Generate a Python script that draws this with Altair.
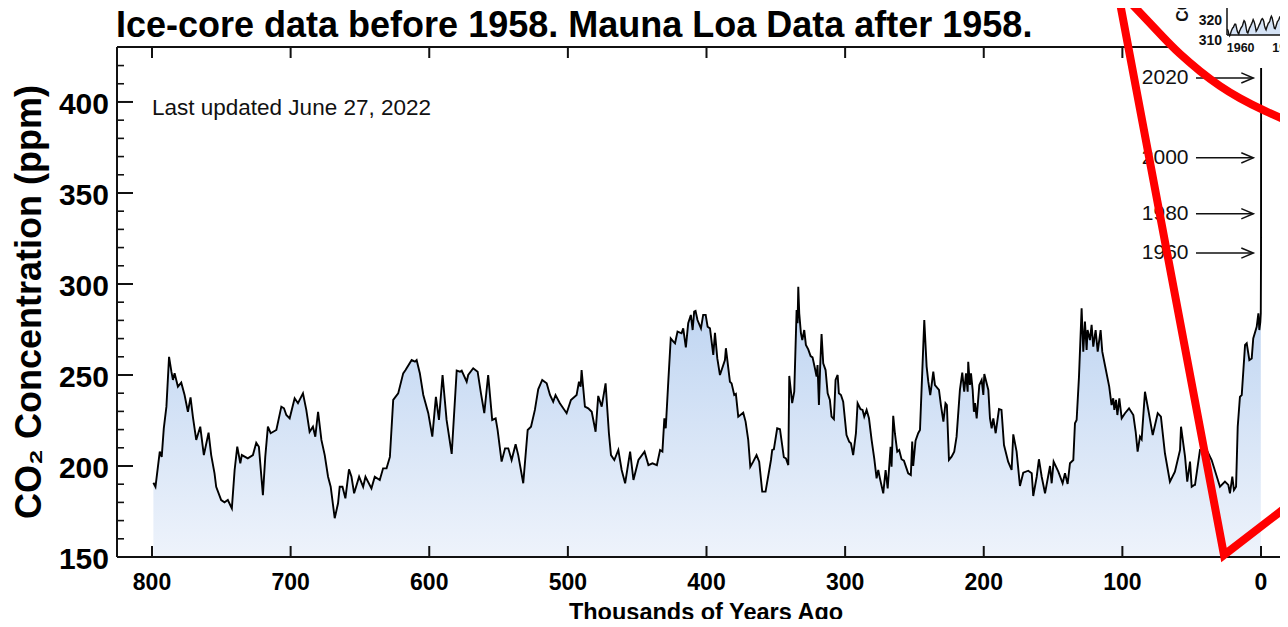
import altair as alt
import pandas as pd

FONT = "Liberation Sans"
INK = "#111111"

# ---------------- ice-core record (age in thousands of years ago, CO2 ppm) ----------------
seg_a_age = [799, 797.5, 794.4, 793, 791.5, 789.6, 787.7, 786, 784.9, 783.7, 781.3, 778.9, 776.5, 774.1,
             772.2, 770.5, 768.1, 765.2, 762.6, 759.2, 757.3, 754.9, 753.7, 750.1, 747.7, 745.3, 742.4,
             740.4, 738.5, 736.3, 735.2, 730.9, 727.2, 724.8, 722.9, 720, 718.3, 716.4, 714.4, 710.3,
             706.7, 704.8, 703.1, 700.7, 697.1, 694.7, 693.5, 691.1, 688.7, 686.3, 683.9, 682.2, 680.2,
             677.8, 675.4, 673, 671.1, 668.2, 665.8, 664.6, 662.6, 660.5, 657.9, 656.1, 654.2, 650.6,
             647.7, 646, 641.7, 639.3, 635.7, 633.3, 630.8, 628.4, 626, 622.4, 618.8, 617.1, 612.7, 610.3]
seg_a_ppm = [190.8, 188.6, 207.9, 205, 220.7, 232.6, 260, 251.8, 247.3, 251, 243.6, 245.8, 239, 229.8,
             237.7, 227, 214.3, 221.6, 206, 218.3, 206, 196, 188.6, 181.3, 180, 181.3, 176.7, 197.8,
             210.6, 201.5, 206, 204.2, 206, 212.8, 210.6, 184, 205, 221.6, 218, 219.8, 232.6, 231.7,
             228, 226.2, 237.2, 234.5, 236.3, 239.9, 230.8, 218.8, 221.6, 216.1, 229.8, 214.3, 206,
             194.1, 188.6, 171.3, 179.5, 188.6, 188.6, 182.2, 198.2, 194.1, 185, 194.1, 188.6, 194.1,
             187.7, 194.1, 192.3, 198.7, 198.7, 205, 236.3, 239.9, 250.9, 252.7, 258.2, 257.3]

seg_b_age = [609.1, 606.8, 604.3, 600.7, 597.8, 595.2, 593, 590.4, 587.5, 583.8, 580.2, 577.9, 576.6,
             573, 571.9, 568.3, 565.1, 562.7, 560.3, 557.5, 554.6, 552.1, 550.7, 547.8, 545.3, 543,
             540.6, 537.7, 535.8, 532.2, 529, 526.6, 523.8, 521.4, 518.5, 515.3, 512.9, 510.6, 508.9,
             505.8, 500.9, 497.8, 493.7, 492, 490.8, 490.1, 487.7, 485.3, 482.8, 480, 478.1, 475.6,
             472.8, 470.4, 468.9, 466.5, 463.6, 461.2, 458.7, 455.1, 452.7, 449.1, 444.7, 441.9, 439,
             435.8, 433.5, 431.8, 430.4, 429.4, 427.5, 425.8, 423.9, 422.7]
seg_b_ppm = [258.2, 251, 239, 229, 216.1, 238, 225.3, 250, 225.3, 206.6, 252.4, 251.8, 252.4, 246.3,
             250, 253.7, 251.8, 239.9, 229, 250, 225.3, 226.2, 219.8, 202.4, 209.7, 209.7, 203.3, 212,
             206, 190.5, 219.8, 221.6, 230.8, 242.1, 247.3, 245.4, 239, 235.3, 239, 234.5, 229, 236.3,
             239, 246.3, 243.5, 252.7, 232.6, 231.7, 229.8, 218.8, 238.5, 232.6, 245.4, 218, 206,
             203.3, 208.8, 197.8, 190.5, 207.9, 192.3, 203.3, 207.9, 200.5, 201.5, 200.5, 208.8, 207.9,
             226.2, 220.7, 247.3, 270.1, 268.3, 267.4]

seg_c_age = [420.9, 418, 416.8, 414.9, 413.2, 411.3, 410, 408.9, 407.9, 406.5, 404, 402.4, 400.6,
             399.2, 397.5, 395.1, 393.9, 392.2, 390.3, 386.7, 386, 383.1, 381.9, 380, 378.8, 377.1,
             373.5, 371.8, 369.9, 368.4, 366.3, 363.9, 362, 359.8, 357.4, 353.5, 352.6, 351.4, 349,
             347, 344.2, 342.7, 341, 340.3, 338.2, 336.7, 335, 334.3, 333.8, 333.1, 331.9, 330.9,
             329.5, 328.3, 326.6, 324.9, 323.5, 321.8, 320.6, 319.9, 318.9, 318, 317, 315.8, 314.1,
             312.6, 311, 309.8, 308.1, 306.9, 305.4, 304.5, 303, 301.4, 299, 297.1, 295.8, 294.2,
             292.2, 291, 288.9, 287.4, 286.2, 284.5, 282.8, 280.9, 279, 277.3, 276.1, 274.9, 272.5,
             270.8, 269.3, 267.2, 266.5, 265.3, 264.1, 262.4, 261, 259.3, 257.6, 254.5, 252.6, 251.6,
             250.9, 249.2, 247.3, 246, 244.4, 242.9, 241.2, 240]
seg_c_ppm = [273.8, 272.9, 275.6, 265.2, 278.4, 283, 274.7, 284.8, 285.2, 280.2, 275.6, 283, 283,
             276.5, 275.6, 261, 273.2, 259.1, 250, 258.2, 264.7, 246.3, 245.4, 239, 239.6, 227.1,
             229.3, 224.4, 214.3, 199.6, 202.4, 206, 202.4, 185.9, 185.9, 203.3, 208.8, 209.2, 220.7,
             220.2, 204.8, 204.2, 200.5, 249.5, 234.5, 240.9, 285.7, 278.4, 298.5, 283.9, 273, 269.2,
             274.7, 266.5, 264.1, 260.4, 259.7, 253.7, 249.1, 255.5, 233.5, 254.6, 272.5, 256.4,
             252.7, 239.9, 236.3, 227.1, 225.7, 247.3, 250, 239.9, 239, 235.3, 217, 213.4, 212.5, 206,
             218, 234.5, 231.2, 230.8, 227.1, 230.8, 226.2, 214.3, 204.2, 193.2, 197.8, 193.2, 185,
             197.8, 187.7, 210.6, 199.6, 227.6, 218, 207.9, 208.8, 203.7, 202.9, 196, 195, 213.4, 200,
             213.9, 218, 219.8, 250.9, 280.2, 254.6, 246.3]

seg_d_age = [238.6, 237.6, 236.4, 235.2, 232.3, 230.9, 229.1, 227.6, 226.6, 225.1, 223.2, 221.3,
             219.6, 217.2, 215.5, 214.1, 212.8, 211.6, 211.2, 210, 209.2, 208, 207.1, 206.3, 205.1,
             203.2, 201.5, 200.3, 199.6, 196.7, 195.5, 194.3, 193.1, 191.4, 189, 187.2, 185.4, 182.4,
             179.9, 178.7, 176.3, 173.9, 171.5, 167.9, 165.4, 164.3, 161.8, 160.2, 158.2, 155.8, 152.2,
             151, 149.6, 146.2, 143.1, 141.4, 139.5, 137.8, 135.4, 134.2, 133, 131.3, 129.4, 128.2,
             127, 125.8, 125.1, 123.4, 122.2, 121, 119.3, 117.8, 115.7, 114.5, 112.6, 109.5, 107.8,
             106.6, 105.8, 104.6, 103.6, 102.2, 100.5, 98.1, 95.2, 92.1, 90.4, 89, 87.3, 86.1, 83.7,
             81.3, 78.1, 74.5, 72.2, 69.3, 65.7, 62.1, 58.4, 57.7, 54.8, 53.2, 51.2, 50, 48.1]
seg_d_ppm = [239, 244.5, 251.8, 244.5, 241.8, 233.5, 224.4, 234.5, 233.5, 203.3, 205.1, 207.9, 216.1,
             241.8, 251.3, 240.8, 250.9, 240.8, 257.3, 244.5, 250.9, 241.8, 229.8, 234.5, 226.2,
             244.5, 247.3, 239, 250.5, 241.8, 226.2, 220.7, 226.2, 218, 231.3, 230.8, 211.5, 202.4,
             197.8, 217.4, 207.9, 189, 196.3, 197.4, 196, 183.5, 194.1, 203.7, 194.1, 185, 200, 190.5,
             202.4, 196.9, 190.5, 196, 190.1, 201.5, 203.3, 223.5, 225.3, 249.1, 286.6, 262.8, 279.3,
             263.7, 274.7, 269.2, 277.5, 265.6, 274.7, 262.8, 274.7, 262.8, 255.5, 243.6, 233.5,
             237.2, 230.8, 236.3, 228, 237.2, 226.2, 229, 231.7, 228, 218.8, 207.9, 216.1, 214.7,
             240.8, 230.8, 217, 229, 227.1, 207, 191.4, 196.9, 208.8, 221.6, 205.1, 191.4, 202.4,
             188.6, 189.6]

seg_e_age = [47.6, 44, 39.2, 35.6, 29.6, 26, 23.6, 22.4, 20.7, 19.5, 18, 16.8, 15.2, 13.9, 11.5, 10.3,
             8.4, 6.7, 5.6, 3.1, 1.9, 1.2, 0.5, 0.15]
seg_e_ppm = [189.6, 208.8, 208.8, 203.3, 188.6, 191.4, 189.6, 185, 194.1, 186.8, 188.6, 221.6, 238,
             239, 266.5, 267.4, 258.2, 259.1, 270.1, 276.5, 283.9, 274.7, 279, 284]

# ---------------- Mauna Loa (modern) ----------------
modern_year = [1958, 1960, 1970, 1980, 1990, 2000, 2010, 2020, 2022]
modern_ppm = [315.3, 316.9, 325.7, 338.8, 354.4, 369.7, 389.9, 414.2, 418.6]

arrow_labels = ["2020", "2000", "1980", "1960"]
arrow_ppm = [413.2, 369.3, 338.6, 317.0]

# inset: monthly Mauna Loa, Jul 1958 - Dec 1964
inset_ppm = [315.86, 314.93, 313.20, 312.43, 313.33, 314.67,
             315.62, 316.38, 316.71, 317.72, 318.29, 318.15, 316.54, 314.80, 313.84, 313.33, 314.81, 315.58,
             316.43, 316.98, 317.58, 319.03, 320.04, 319.59, 318.18, 315.90, 314.17, 313.83, 315.00, 316.19,
             316.93, 317.70, 318.54, 319.48, 320.58, 319.77, 318.57, 316.79, 314.80, 315.38, 316.10, 317.01,
             317.94, 318.55, 319.68, 320.57, 321.02, 320.62, 319.61, 317.40, 316.25, 315.42, 316.69, 317.70,
             318.74, 319.07, 319.86, 321.38, 322.25, 321.48, 319.74, 317.77, 316.21, 315.99, 317.07, 318.35,
             319.57, 320.07, 320.73, 321.77, 322.25, 321.89, 320.44, 318.69, 316.70, 316.87, 317.68, 318.71]
inset_y_labels = [310, 320, 330]
inset_x_labels = [1960, 1965]

# ---------------- axis tick values ----------------
x_tick_values = [0, 100, 200, 300, 400, 500, 600, 700, 800]
y_label_values = [150, 200, 250, 300, 350, 400]
y_minor_values = [160, 170, 180, 190, 210, 220, 230, 240, 260, 270, 280, 290,
                  310, 320, 330, 340, 360, 370, 380, 390, 410, 420]

# ---------------- red hand-drawn annotation (data units) ----------------
red_v_age = [102.1, 26.7, -19.5]
red_v_ppm = [456.0, 151.1, 178.2]
red_curve_age = [95.94, 82.96, 70.69, 58.43, 44.0, 29.58, 15.15, -2.89, -20.92]
red_curve_ppm = [456.0, 445.6, 435.7, 426.4, 417.0, 408.8, 402.1, 395.1, 389.0]

TITLE = "Ice-core data before 1958. Mauna Loa Data after 1958."
UPDATED = "Last updated June 27, 2022"
X_TITLE = "Thousands of Years Ago"
Y_TITLE = "CO\u2082 Concentration (ppm)"
INSET_TITLE = "CO\u2082 (ppm)"

# ---------------- frames ----------------
ice_age = seg_a_age + seg_b_age + seg_c_age + seg_d_age + seg_e_age
ice_ppm = seg_a_ppm + seg_b_ppm + seg_c_ppm + seg_d_ppm + seg_e_ppm
assert len(ice_age) == len(ice_ppm)
ice_df = pd.DataFrame({"age": ice_age, "ppm": ice_ppm})
modern_df = pd.DataFrame({"age": [(1950 - y) / 1000.0 for y in modern_year], "ppm": modern_ppm})
line_df = pd.concat([ice_df, modern_df], ignore_index=True)
arrow_df = pd.DataFrame({"label": arrow_labels, "ppm": arrow_ppm})
inset_df = pd.DataFrame({"year": [1958.5 + (k + 0.5) / 12.0 for k in range(len(inset_ppm))],
                         "ppm": inset_ppm})
one = pd.DataFrame({"k": [0]})

W, H = 1163, 510
X_MAIN = alt.Scale(domain=[-13.706, 825.25], reverse=True, nice=False, zero=False)
Y_MAIN = alt.Scale(domain=[150, 430.2], nice=False, zero=False)
X_IN = alt.Scale(domain=[1958.5, 1965.0], range=[1110, 1169.15], nice=False, zero=False)
Y_IN = alt.Scale(domain=[310, 330], range=[-6.3, -46.3], nice=False, zero=False)


def xq(field):
    return alt.X(field, scale=X_MAIN, axis=None)


def yq(field):
    return alt.Y(field, scale=Y_MAIN, axis=None)


fill = alt.Gradient(gradient="linear",
                    stops=[alt.GradientStop(color="#bcd3f1", offset=0),
                           alt.GradientStop(color="#eef3fb", offset=1)],
                    x1=1, x2=1, y1=0, y2=1)

area = alt.Chart(ice_df).mark_area(color=fill).encode(
    x=xq("age:Q"), y=yq("ppm:Q"), y2=alt.Y2(datum=150))

y_major = alt.Chart(pd.DataFrame({"v": y_label_values})).mark_rule(color=INK, strokeWidth=2).encode(
    y=yq("v:Q"), x=alt.value(0), x2=alt.value(16))
y_minor = alt.Chart(pd.DataFrame({"v": y_minor_values})).mark_rule(color=INK, strokeWidth=1.6).encode(
    y=yq("v:Q"), x=alt.value(0), x2=alt.value(7))
x_bot = alt.Chart(pd.DataFrame({"v": x_tick_values})).mark_rule(color=INK, strokeWidth=2).encode(
    x=xq("v:Q"), y=alt.value(H), y2=alt.value(H - 11))
x_top = alt.Chart(pd.DataFrame({"v": x_tick_values})).mark_rule(color=INK, strokeWidth=2).encode(
    x=xq("v:Q"), y=alt.value(0), y2=alt.value(11))

frame_l = alt.Chart(one).mark_rule(color=INK, strokeWidth=2).encode(
    x=alt.value(0), y=alt.value(0), y2=alt.value(H))
frame_t = alt.Chart(one).mark_rule(color=INK, strokeWidth=2).encode(
    y=alt.value(0), x=alt.value(0), x2=alt.value(W))
frame_b = alt.Chart(one).mark_rule(color=INK, strokeWidth=2).encode(
    y=alt.value(H), x=alt.value(0), x2=alt.value(W))

# axis labels and titles as text marks placed through the scales
y_lab = alt.Chart(pd.DataFrame({"v": y_label_values, "t": [str(v) for v in y_label_values]})).mark_text(
    align="right", baseline="middle", font=FONT, fontSize=30, fontWeight="bold", color="black", dy=3).encode(
    x=alt.value(-8), y=yq("v:Q"), text="t:N")
x_lab = alt.Chart(pd.DataFrame({"v": x_tick_values, "t": [str(v) for v in x_tick_values]})).mark_text(
    align="center", baseline="alphabetic", font=FONT, fontSize=23, fontWeight="bold", color="black").encode(
    x=xq("v:Q"), y=alt.value(H + 33), text="t:N")
x_title = alt.Chart(one).mark_text(text=X_TITLE, align="center", baseline="alphabetic", font=FONT,
                                   fontSize=23.5, fontWeight="bold", color="black").encode(
    x=alt.value(589), y=alt.value(H + 63))
y_title = alt.Chart(one).mark_text(text=Y_TITLE, angle=270, align="center", baseline="alphabetic", font=FONT,
                                   fontSize=36, fontWeight="bold", color="black").encode(
    x=alt.value(-76), y=alt.value(255))
main_title = alt.Chart(one).mark_text(text=TITLE, align="left", baseline="alphabetic", font=FONT,
                                      fontSize=36, fontWeight="bold", color="black").encode(
    x=alt.value(-1), y=alt.value(-10))

curve = alt.Chart(line_df).mark_line(color="black", strokeWidth=1.9).encode(
    x=xq("age:Q"), y=yq("ppm:Q"))

updated = alt.Chart(one).mark_text(text=UPDATED, align="left", baseline="alphabetic", font=FONT,
                                   fontSize=22.5, color=INK).encode(
    x=alt.X(datum=800, scale=X_MAIN, axis=None), y=alt.Y(datum=392.9, scale=Y_MAIN, axis=None))

arrow_txt = alt.Chart(arrow_df).mark_text(align="right", baseline="middle", font=FONT, fontSize=21,
                                          color=INK).encode(
    x=alt.X(datum=52.3, scale=X_MAIN, axis=None), y=yq("ppm:Q"), text="label:N")
arrow_line = alt.Chart(arrow_df).mark_rule(color=INK, strokeWidth=1.5).encode(
    x=alt.X(datum=46.9, scale=X_MAIN, axis=None), x2=alt.X2(datum=5.55), y=yq("ppm:Q"))
arrow_head = alt.Chart(arrow_df).mark_point(shape="M-2,-0.85L0,0L-2,0.85", filled=False, size=144,
                                            strokeWidth=1.5, color=INK, opacity=1).encode(
    x=alt.X(datum=5.55, scale=X_MAIN, axis=None), y=yq("ppm:Q"))

box = alt.Chart(one).mark_rect(color="white").encode(
    x=alt.X(datum=64.2, scale=X_MAIN, axis=None), x2=alt.X2(datum=-40),
    y=alt.Y(datum=424.2, scale=Y_MAIN, axis=None), y2=alt.Y2(datum=480))

main = alt.layer(area, y_major, y_minor, x_bot, x_top, frame_l, frame_t, frame_b, curve, updated,
                 arrow_line, arrow_head, arrow_txt, y_lab, x_lab, x_title, y_title, main_title, box)

# ---------------- inset ----------------
in_area = alt.Chart(inset_df).mark_area(color="#d5e3f6").encode(
    x=alt.X("year:Q", scale=X_IN, axis=None), y=alt.Y("ppm:Q", scale=Y_IN, axis=None),
    y2=alt.Y2(datum=312.85))
in_line = alt.Chart(inset_df).mark_line(color=INK, strokeWidth=1.4).encode(
    x=alt.X("year:Q", scale=X_IN, axis=None), y=alt.Y("ppm:Q", scale=Y_IN, axis=None))
in_fl = alt.Chart(one).mark_rule(color=INK, strokeWidth=1.5).encode(
    x=alt.value(1110), y=alt.value(-12), y2=alt.value(-70))
in_fb = alt.Chart(one).mark_rule(color=INK, strokeWidth=1.5).encode(
    y=alt.value(-12), x=alt.value(1110), x2=alt.value(1200))
in_ylab = alt.Chart(pd.DataFrame({"v": inset_y_labels, "t": [str(v) for v in inset_y_labels]})).mark_text(
    align="right", baseline="middle", font=FONT, fontSize=14, fontWeight="bold", color=INK).encode(
    x=alt.value(1105), y=alt.Y("v:Q", scale=Y_IN, axis=None), text="t:N")
in_xlab = alt.Chart(pd.DataFrame({"v": inset_x_labels, "t": [str(v) for v in inset_x_labels]})).mark_text(
    align="center", baseline="middle", font=FONT, fontSize=12.5, fontWeight="bold", color=INK).encode(
    x=alt.X("v:Q", scale=X_IN, axis=None), y=alt.value(1), text="t:N")
in_title = alt.Chart(one).mark_text(text=INSET_TITLE, angle=270, align="left", baseline="alphabetic",
                                    font=FONT, fontSize=16, fontWeight="bold", color=INK).encode(
    x=alt.value(1071), y=alt.value(-25.3))

inset = alt.layer(in_area, in_line, in_fl, in_fb, in_ylab, in_xlab, in_title)

# ---------------- red annotation ----------------
red_v = alt.Chart(pd.DataFrame({"age": red_v_age, "ppm": red_v_ppm,
                                "i": list(range(len(red_v_age)))})).mark_line(
    color="#ff0000", strokeWidth=8, strokeJoin="miter", strokeCap="butt").encode(
    x=xq("age:Q"), y=yq("ppm:Q"), order="i:Q")
red_c = alt.Chart(pd.DataFrame({"age": red_curve_age, "ppm": red_curve_ppm,
                                "i": list(range(len(red_curve_age)))})).mark_line(
    color="#ff0000", strokeWidth=8, interpolate="natural", strokeCap="butt").encode(
    x=xq("age:Q"), y=yq("ppm:Q"), order="i:Q")
red = alt.layer(red_v, red_c)

chart = alt.layer(main, inset, red).resolve_scale(x="independent", y="independent").properties(
    width=W, height=H,
    autosize=alt.AutoSizeParams(type="none"),
    padding={"left": 109, "top": 39, "right": 0, "bottom": 62},
    background="white",
).configure_view(stroke=None)

chart.save("out.html", embed_options={"renderer": "svg", "actions": False})
